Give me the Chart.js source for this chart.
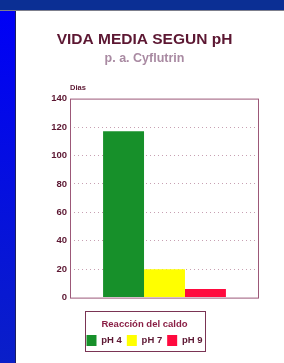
<!DOCTYPE html>
<html lang="es">
<head>
  <meta charset="UTF-8">
  <title>Vida media segun pH</title>
  <script src="https://cdn.jsdelivr.net/npm/chart.js"></script>
  <style>
    body {
      margin: 0;
      width: 284px;
      height: 363px;
      background: #fff;
      overflow: hidden;
      position: relative;
    }
    #topbar {
      position: absolute;
      left: 0; top: 0;
      width: 284px; height: 10px;
      background: #0b2f94;
      border-bottom: 1px solid #7d7f8c;
    }
    #leftbar {
      position: absolute;
      left: 0; top: 11px;
      width: 15px; height: 352px;
      background: linear-gradient(#0000f6, #0a1fc8);
      border-right: 1px solid #1a1f60;
    }
    #wrap {
      position: absolute;
      left: 30px; top: 11px;
      width: 254px; height: 352px;
    }
  </style>
</head>
<body>
  <div id="topbar"></div>
  <div id="leftbar"></div>
  <div id="wrap"><canvas id="vidaChart"></canvas></div>

  <script>
    const categories = [''];
    const seriesLabels = ['pH 4', 'pH 7', 'pH 9'];
    const halfLives = [117, 20, 6];
    const barColors = ['#17902a', '#ffff00', '#ff0a3e'];
    const yTicks = [0, 20, 40, 60, 80, 100, 120, 140];

    const maroon = '#5c1732';
    const fontFam = "Arial, 'Liberation Sans', sans-serif";

    // marco del area de trazado + etiqueta "Dias" + recuadro de la leyenda
    const framePlugin = {
      id: 'frame',
      beforeDatasetsDraw(chart) {
        const a = chart.chartArea, c = chart.ctx;
        c.save();
        c.strokeStyle = '#9c5878';
        c.lineWidth = 1;
        c.strokeRect(a.left + 0.5, a.top + 0.5, a.right - a.left - 1, a.bottom - a.top);
        c.restore();
      },
      afterDraw(chart) {
        const a = chart.chartArea, c = chart.ctx;
        c.save();
        c.fillStyle = maroon;
        c.font = 'bold 7.5px ' + fontFam;
        c.textBaseline = 'alphabetic';
        c.fillText('Dias', a.left, a.top - 9);

        const lg = chart.legend;
        const boxes = lg.legendHitBoxes;
        if (boxes && boxes.length) {
          const minX = Math.min(...boxes.map(b => b.left));
          const maxX = Math.max(...boxes.map(b => b.left + b.width));
          const cx = (minX + maxX) / 2;
          const w = 120;
          const bottom = boxes[0].top + boxes[0].height + 5;
          const top = bottom - 40;
          c.strokeStyle = '#7a3454';
          c.lineWidth = 1;
          c.strokeRect(Math.round(cx - w / 2) + 0.5, Math.round(top) + 0.5, w, 40);
        }
        c.restore();
      }
    };

    const ctx = document.getElementById('vidaChart').getContext('2d');
    const chart = new Chart(ctx, {
      type: 'bar',
      data: {
        labels: categories,
        datasets: seriesLabels.map((lab, i) => ({
          label: lab,
          data: [halfLives[i]],
          backgroundColor: barColors[i],
          borderWidth: 0,
          categoryPercentage: 0.65,
          barPercentage: 1.0
        }))
      },
      options: {
        responsive: true,
        maintainAspectRatio: false,
        animation: false,
        layout: { padding: { left: 0, right: 25, top: 0, bottom: 7 } },
        plugins: {
          title: {
            display: true,
            text: 'VIDA MEDIA SEGUN pH',
            color: maroon,
            font: { family: fontFam, size: 15.5, weight: 'bold' },
            padding: { top: 19, bottom: 0 }
          },
          subtitle: {
            display: true,
            text: 'p. a. Cyflutrin',
            color: '#a98aa2',
            font: { family: fontFam, size: 12.5, weight: 'bold' },
            padding: { top: 2, bottom: 33 }
          },
          legend: {
            position: 'bottom',
            labels: {
              boxWidth: 10,
              boxHeight: 11,
              padding: 5,
              color: maroon,
              font: { family: fontFam, size: 9.5, weight: 'bold' }
            },
            title: {
              display: true,
              text: 'Reacción del caldo',
              color: '#8a1f45',
              font: { family: fontFam, size: 9.5, weight: 'bold' },
              padding: { top: 14, bottom: -1 }
            }
          },
          tooltip: { enabled: false }
        },
        scales: {
          x: {
            ticks: { display: false },
            grid: { display: false },
            border: { display: false }
          },
          y: {
            min: 0,
            max: 140,
            afterBuildTicks(axis) {
              axis.ticks = yTicks.map(v => ({ value: v }));
            },
            afterFit(axis) { axis.width = 40; },
            ticks: {
              color: maroon,
              padding: 3,
              font: { family: fontFam, size: 9.5, weight: 'bold' }
            },
            grid: {
              drawTicks: false,
              color: ctx => (ctx.tick && (ctx.tick.value === 0 || ctx.tick.value === 140)) ? 'rgba(0,0,0,0)' : '#c7a0b2',
              lineWidth: 1
            },
            border: { display: false, dash: [1, 3] }
          }
        }
      },
      plugins: [framePlugin]
    });
  </script>
</body>
</html>
